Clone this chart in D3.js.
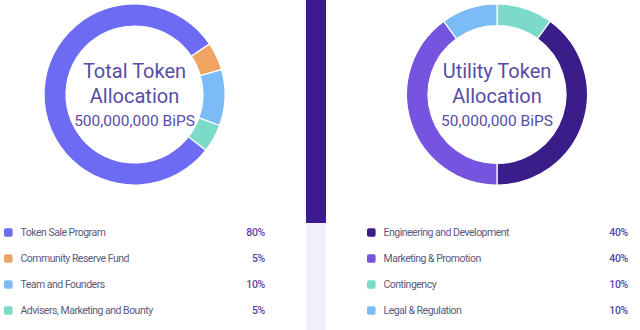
<!DOCTYPE html>
<html><head><meta charset="utf-8">
<script src="https://cdn.jsdelivr.net/npm/d3@7"></script>
<style>
html,body{margin:0;padding:0;background:#fff;}
svg{display:block;}
</style></head>
<body>
<svg id="chart" width="640" height="330"></svg>
<script>
// Data
const totalLabels = ["Token Sale Program", "Community Reserve Fund", "Team and Founders", "Advisers, Marketing and Bounty"];
const totalValues = [80, 5, 10, 5];
const totalColors = ["#6d6af4", "#f0a461", "#7bbcf7", "#7bdac8"];
const totalDrawOrder = [0, 1, 2, 3];
const totalTitle = ["Total Token", "Allocation"];
const totalAmount = "500,000,000 BiPS";

const utilLabels = ["Engineering and Development", "Marketing & Promotion", "Contingency", "Legal & Regulation"];
const utilValues = [40, 40, 10, 10];
const utilColors = ["#3a1d88", "#7654e0", "#7bdac8", "#7bbcf7"];
const utilDrawOrder = [2, 0, 1, 3];
const utilTitle = ["Utility Token", "Allocation"];
const utilAmount = "50,000,000 BiPS";

const svg = d3.select("#chart");
const font = "Roboto, 'Noto Sans', sans-serif";

// divider
svg.append("rect").attr("x", 306).attr("y", 0).attr("width", 20).attr("height", 223).attr("fill", "#3d1a8f");
svg.append("rect").attr("x", 306).attr("y", 223).attr("width", 20).attr("height", 107).attr("fill", "#f1f0fb");

function donut(cx, cy, rOuter, rInner, labels, values, colors, order, startDeg, title, amount) {
  const items = order.map(i => ({label: labels[i], value: values[i], color: colors[i]}));
  const start = startDeg * Math.PI / 180;
  const pie = d3.pie().sort(null).value(d => d.value).startAngle(start).endAngle(start + 2 * Math.PI);
  const arc = d3.arc().innerRadius(rInner).outerRadius(rOuter);
  const g = svg.append("g").attr("transform", `translate(${cx},${cy})`);
  g.selectAll("path").data(pie(items)).join("path")
    .attr("d", arc).attr("fill", d => d.data.color)
    .attr("stroke", "#fff").attr("stroke-width", 1.2);
  g.append("text").attr("y", -24).attr("text-anchor", "middle").attr("dominant-baseline", "central")
    .attr("font-family", font).attr("font-size", 20).attr("fill", "#574ca6").text(title[0]);
  g.append("text").attr("y", 1).attr("text-anchor", "middle").attr("dominant-baseline", "central")
    .attr("font-family", font).attr("font-size", 20).attr("fill", "#574ca6").text(title[1]);
  g.append("text").attr("y", 26.5).attr("text-anchor", "middle").attr("dominant-baseline", "central")
    .attr("font-family", font).attr("font-size", 15.5).attr("fill", "#574ca6").text(amount);
}

function legend(x0, xr, labels, values, colors) {
  const y = d3.scalePoint().domain(labels).range([232.5, 310.5]);
  const g = svg.append("g");
  labels.forEach((l, i) => {
    const yy = y(l);
    g.append("rect").attr("x", x0).attr("y", yy - 4.3).attr("width", 8.6).attr("height", 8.6)
      .attr("rx", 1.8).attr("fill", colors[i]);
    g.append("text").attr("x", x0 + 16.5).attr("y", yy).attr("dominant-baseline", "central")
      .attr("font-family", font).attr("font-size", 10.5).attr("letter-spacing", -0.5)
      .attr("fill", "#5b5a7a").text(l);
    g.append("text").attr("x", xr).attr("y", yy).attr("dominant-baseline", "central").attr("text-anchor", "end")
      .attr("font-family", font).attr("font-size", 10.5).attr("letter-spacing", -0.3).attr("font-weight", 500)
      .attr("fill", "#5348a8").text(values[i] + "%");
  });
}

donut(134.5, 94.5, 90.5, 68.5, totalLabels, totalValues, totalColors, totalDrawOrder, 128, totalTitle, totalAmount);
donut(497, 94.5, 90.5, 69, utilLabels, utilValues, utilColors, utilDrawOrder, 0, utilTitle, utilAmount);
legend(4, 265, totalLabels, totalValues, totalColors);
legend(367, 628, utilLabels, utilValues, utilColors);
</script>
</body></html>
